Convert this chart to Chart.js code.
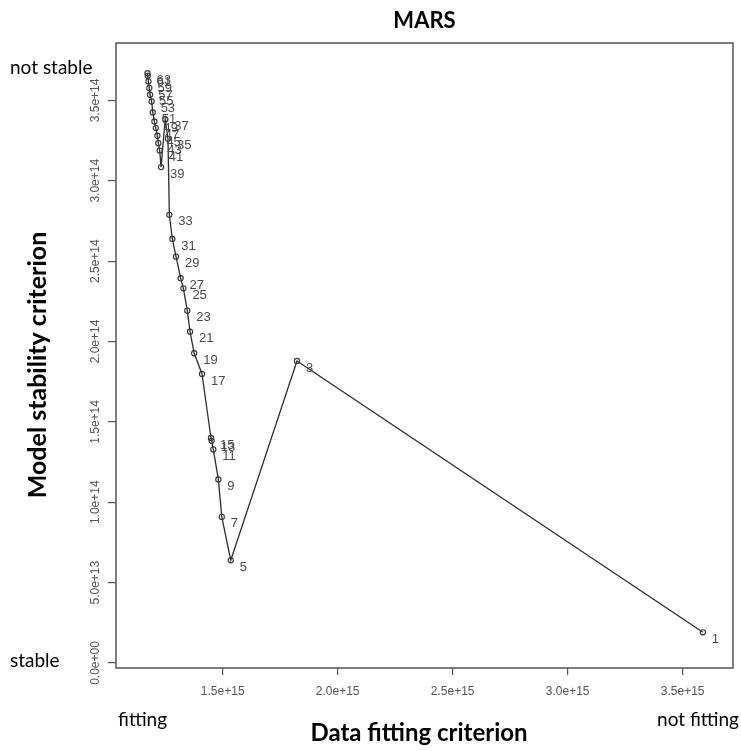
<!DOCTYPE html>
<html>
<head>
<meta charset="utf-8">
<script src="https://cdn.jsdelivr.net/npm/chart.js@4/dist/chart.umd.min.js"></script>
<style>
  html, body { margin: 0; padding: 0; background: #ffffff; }
  #wrap { width: 741px; height: 751px; }
</style>
</head>
<body>
<div id="wrap"><canvas id="c" width="741" height="751"></canvas></div>
<script>
// ---- data ----
const modelIndex = [1, 3, 5, 7, 9, 11, 13, 15, 17, 19, 21, 23, 25, 27, 29, 31, 33,
                    35, 37, 39, 41, 43, 45, 47, 49, 51, 53, 55, 57, 59, 61, 63];
// Data fitting criterion
const fitting = [3.588e15, 1.823e15, 1.535e15, 1.496e15, 1.481e15, 1.459e15, 1.452e15, 1.449e15,
                 1.410e15, 1.376e15, 1.358e15, 1.346e15, 1.329e15, 1.317e15, 1.297e15, 1.281e15,
                 1.268e15, 1.262e15, 1.250e15, 1.232e15, 1.226e15, 1.220e15, 1.216e15, 1.209e15,
                 1.203e15, 1.196e15, 1.191e15, 1.184e15, 1.181e15, 1.177e15, 1.174e15, 1.173e15];
// Model stability criterion
const stability = [0.191e14, 1.879e14, 0.639e14, 0.909e14, 1.142e14, 1.329e14, 1.382e14, 1.400e14,
                   1.798e14, 1.927e14, 2.061e14, 2.192e14, 2.331e14, 2.394e14, 2.528e14, 2.638e14,
                   2.788e14, 3.261e14, 3.384e14, 3.085e14, 3.188e14, 3.234e14, 3.280e14, 3.328e14,
                   3.369e14, 3.425e14, 3.493e14, 3.535e14, 3.577e14, 3.618e14, 3.653e14, 3.669e14];

const xTickValues = [1.5e15, 2.0e15, 2.5e15, 3.0e15, 3.5e15];
const xTickLabels = ['1.5e+15', '2.0e+15', '2.5e+15', '3.0e+15', '3.5e+15'];
const yTickValues = [0, 0.5e14, 1.0e14, 1.5e14, 2.0e14, 2.5e14, 3.0e14, 3.5e14];
const yTickLabels = ['0.0e+00', '5.0e+13', '1.0e+14', '1.5e+14', '2.0e+14', '2.5e+14', '3.0e+14', '3.5e+14'];

const titleText = 'MARS';
const xTitle = 'Data fitting criterion';
const yTitle = 'Model stability criterion';
const xLowText = 'fitting', xHighText = 'not fitting';
const yLowText = 'stable', yHighText = 'not stable';

// ---- chart ----
const points = fitting.map((x, i) => ({ x: x, y: stability[i] }));
const AX = '#555555';
const TICKFONT = '12px "Liberation Sans", Arial, sans-serif';
const LABELFONT = '13px "Liberation Sans", Arial, sans-serif';
const ANNO = 'Lato, "Open Sans", sans-serif';

const decorPlugin = {
  id: 'decor',
  afterDraw(chart) {
    const ctx = chart.ctx, a = chart.chartArea;
    const xs = chart.scales.x, ys = chart.scales.y;
    ctx.save();
    // box
    ctx.strokeStyle = AX; ctx.lineWidth = 1.5;
    ctx.strokeRect(a.left, a.top, a.right - a.left, a.bottom - a.top);
    // y tick labels (rotated, R style)
    ctx.fillStyle = '#555555';
    ctx.font = TICKFONT;
    ctx.textAlign = 'center'; ctx.textBaseline = 'middle';
    yTickValues.forEach((v, i) => {
      const py = ys.getPixelForValue(v);
      ctx.save();
      ctx.translate(96, py);
      ctx.rotate(-Math.PI / 2);
      ctx.fillText(yTickLabels[i], 0, 0);
      ctx.restore();
    });
    // point labels
    ctx.fillStyle = '#4a4a4a';
    ctx.font = LABELFONT;
    ctx.textAlign = 'left';
    modelIndex.forEach((m, i) => {
      const px = xs.getPixelForValue(fitting[i]);
      const py = ys.getPixelForValue(stability[i]);
      ctx.fillText(String(m), px + 9, py + 7);
    });
    // titles
    ctx.fillStyle = '#000000';
    ctx.textAlign = 'center';
    ctx.font = 'bold 22px ' + ANNO;
    ctx.fillText(titleText, (a.left + a.right) / 2, 21);
    ctx.font = 'bold 24px ' + ANNO;
    ctx.fillText(xTitle, 419, 733);
    ctx.save();
    ctx.translate(38, 365);
    ctx.rotate(-Math.PI / 2);
    ctx.font = 'bold 25px ' + ANNO;
    ctx.fillText(yTitle, 0, 0);
    ctx.restore();
    // annotations
    ctx.font = '19px ' + ANNO;
    ctx.textAlign = 'left';
    ctx.fillText(yHighText, 10, 68);
    ctx.fillText(yLowText, 10, 661);
    ctx.fillText(xLowText, 118, 720);
    ctx.textAlign = 'right';
    ctx.fillText(xHighText, 739, 720);
    ctx.restore();
  }
};

new Chart(document.getElementById('c'), {
  type: 'scatter',
  data: {
    datasets: [{
      data: points,
      showLine: true,
      borderColor: '#2e2e2e',
      borderWidth: 1.3,
      pointRadius: 2.6,
      pointBorderWidth: 1.1,
      pointBorderColor: '#333333',
      pointBackgroundColor: 'rgba(255,255,255,0)',
      pointHoverRadius: 2.6,
      tension: 0
    }]
  },
  options: {
    responsive: false,
    animation: false,
    events: [],
    layout: { padding: { top: 43, right: 8, left: 0, bottom: 0 } },
    plugins: { legend: { display: false }, tooltip: { enabled: false }, title: { display: false } },
    scales: {
      x: {
        type: 'linear',
        min: 1.036e15, max: 3.719e15,
        afterBuildTicks(s) { s.ticks = xTickValues.map(v => ({ value: v })); },
        afterFit(s) { s.height = 83; },
        grid: { display: true, drawOnChartArea: false, drawTicks: true, tickLength: 7, color: AX, lineWidth: 1.2 },
        border: { display: false },
        ticks: {
          padding: 9,
          color: '#555555',
          font: { family: '"Liberation Sans", Arial, sans-serif', size: 12 },
          maxRotation: 0, minRotation: 0,
          callback(v) { const i = xTickValues.indexOf(v); return i >= 0 ? xTickLabels[i] : ''; }
        }
      },
      y: {
        type: 'linear',
        min: -0.031e14, max: 3.857e14,
        afterBuildTicks(s) { s.ticks = yTickValues.map(v => ({ value: v })); },
        afterFit(s) { s.width = 116; },
        grid: { display: true, drawOnChartArea: false, drawTicks: true, tickLength: 8, color: AX, lineWidth: 1.2 },
        border: { display: false },
        ticks: { display: false }
      }
    }
  },
  plugins: [decorPlugin]
});
</script>
</body>
</html>
